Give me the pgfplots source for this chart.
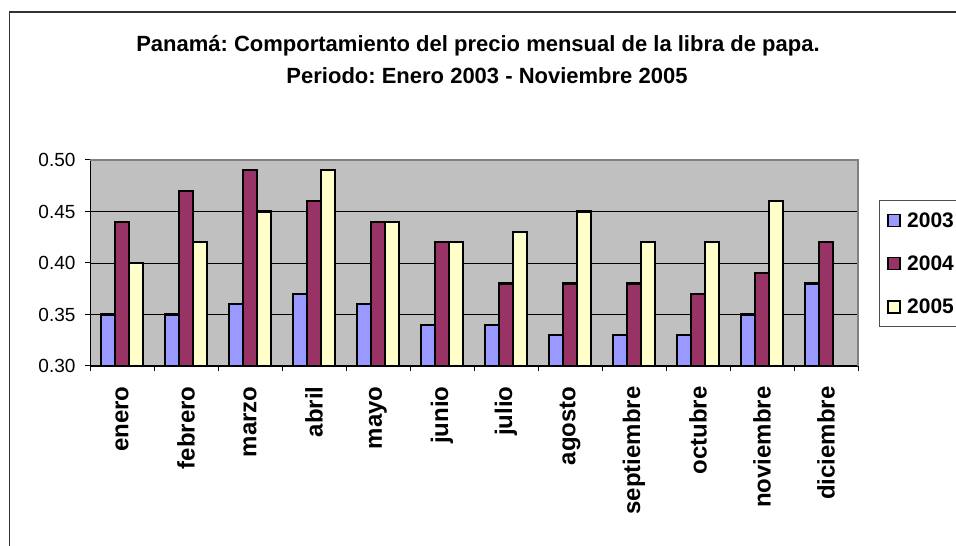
\documentclass[border=0pt]{standalone}
\usepackage{pgfplots}
\pgfplotsset{compat=1.18}
\usepackage{fontspec}
\setmainfont{Liberation Sans}
\definecolor{c03}{HTML}{9999FF}
\definecolor{c04}{HTML}{993366}
\definecolor{c05}{HTML}{FFFFCC}
\definecolor{bg}{HTML}{C0C0C0}
\begin{document}
\frenchspacing
\begin{tikzpicture}[x=1pt,y=1pt]
\useasboundingbox (0,0) rectangle (956,546);
\fill[white] (0,0) rectangle (956,546);
\draw[line width=1.2pt, black!80] (9.5,-5) -- (9.5,534) -- (970,534);
\node[font=\fontsize{22}{26}\selectfont\bfseries, anchor=base] at (478,494) {Panamá: Comportamiento del precio mensual de la libra de papa.};
\node[font=\fontsize{22}{26}\selectfont\bfseries, anchor=base] at (487,462) {Periodo: Enero 2003 - Noviembre 2005};
\begin{axis}[
  at={(90pt,180pt)}, anchor=south west,
  width=768pt, height=206pt, scale only axis,
  ybar=0pt, bar width=14pt,
  xmin=-0.5, xmax=11.5, ymin=0.30, ymax=0.50,
  axis background/.style={fill=bg},
  axis lines*=left,
  axis line style={black, line width=1pt},
  ytick={0.30,0.35,0.40,0.45,0.50},
  yticklabel style={/pgf/number format/fixed, /pgf/number format/fixed zerofill, /pgf/number format/precision=2, font=\fontsize{19}{21}\selectfont, xshift=-6pt},
  /pgf/number format/assume math mode=true,
  ymajorgrids, grid style={black, line width=0.8pt},
  tick align=outside, major tick length=5pt, minor tick length=5pt,
  tick style={black, line width=1pt},
  xtick={0,...,11},
  xticklabels={enero,febrero,marzo,abril,mayo,junio,julio,agosto,septiembre,octubre,noviembre,diciembre},
  major x tick style={draw=none},
  minor xtick={-0.5,0.5,...,11.5},
  xticklabel style={yshift=-12pt, rotate=90, anchor=east, font=\bfseries\fontsize{24}{26}\selectfont},
  legend style={at={(1,1)}, anchor=north west, xshift=21pt, yshift=-40pt, draw=black!70, line width=0.8pt, fill=white, font=\bfseries\fontsize{21}{23}\selectfont, row sep=23pt, inner xsep=8pt, inner ysep=10pt},
  legend cell align=left,
  legend image code/.code={\draw[#1,draw=black,line width=1.4pt] (0pt,-6pt) rectangle (12pt,6pt); \path (16pt,0pt);},
  clip=false,
]
\addplot[fill=c03, draw=black, line width=2.2pt] coordinates {(0,0.35)(1,0.35)(2,0.36)(3,0.37)(4,0.36)(5,0.34)(6,0.34)(7,0.33)(8,0.33)(9,0.33)(10,0.35)(11,0.38)};
\addplot[fill=c04, draw=black, line width=2.2pt] coordinates {(0,0.44)(1,0.47)(2,0.49)(3,0.46)(4,0.44)(5,0.42)(6,0.38)(7,0.38)(8,0.38)(9,0.37)(10,0.39)(11,0.42)};
\addplot[fill=c05, draw=black, line width=2.2pt] coordinates {(0,0.40)(1,0.42)(2,0.45)(3,0.49)(4,0.44)(5,0.42)(6,0.43)(7,0.45)(8,0.42)(9,0.42)(10,0.46)};
\legend{2003,2004,2005}
\draw[gray, line width=1.2pt] (rel axis cs:0,1) -- (rel axis cs:1,1) -- (rel axis cs:1,0);
\end{axis}
\end{tikzpicture}
\end{document}
